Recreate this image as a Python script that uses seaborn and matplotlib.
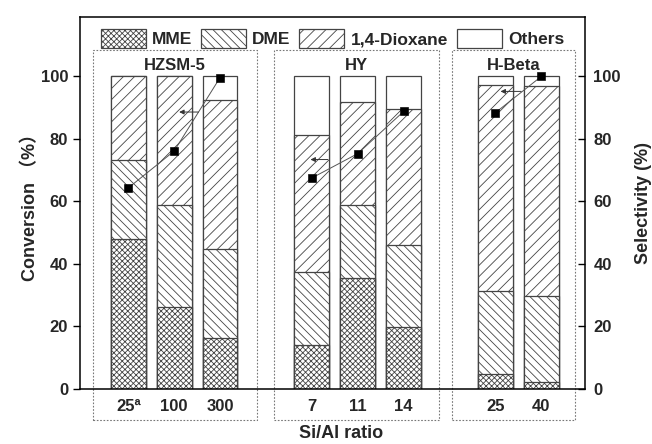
import matplotlib
matplotlib.use("Agg")
import matplotlib.pyplot as plt
import numpy as np
import pandas as pd
import seaborn as sns
from matplotlib.patches import Patch, Rectangle

# Data
groups = ["HZSM-5", "HZSM-5", "HZSM-5", "HY", "HY", "HY", "H-Beta", "H-Beta"]
ratio_labels = ["25ª", "100", "300", "7", "11", "14", "25", "40"]
mme = [48.1, 26.3, 16.4, 14.1, 35.4, 19.9, 4.7, 2.2]
dme = [25.3, 32.7, 28.3, 23.2, 23.6, 26.1, 26.6, 27.7]
dioxane = [26.6, 41.0, 47.8, 43.9, 32.8, 43.7, 66.0, 67.0]
others = [0.0, 0.0, 7.5, 18.8, 8.2, 10.3, 2.7, 3.1]
conversion = [64.3, 76.1, 99.6, 67.5, 75.3, 88.8, 88.4, 100.0]

group_names = ["HZSM-5", "HY", "H-Beta"]
positions = [0, 1, 2, 4, 5, 6, 8, 9]

df = pd.DataFrame({
    "pos": positions,
    "group": groups,
    "MME": mme,
    "DME": dme,
    "1,4-Dioxane": dioxane,
    "Others": others,
    "conv": conversion,
})

sns.set_theme(style="white")
plt.rcParams["font.family"] = ["Liberation Sans", "Noto Sans CJK SC"]
plt.rcParams["font.weight"] = "bold"
plt.rcParams["hatch.linewidth"] = 0.6

fig = plt.figure(figsize=(6.52, 4.44), dpi=100)
ax = fig.add_axes([0.1227, 0.1239, 0.7745, 0.8378])

layers = ["MME", "DME", "1,4-Dioxane", "Others"]
hatches = {"MME": "xxxxxx", "DME": "\\\\\\\\", "1,4-Dioxane": "///", "Others": ""}
edge = "#444444"

# stacked bars drawn as overlapping cumulative totals, tallest first
cum = df[layers].cumsum(axis=1)
for layer in layers[::-1]:
    sns.barplot(x=df["pos"], y=cum[layer], native_scale=True, width=0.76,
                color="white", edgecolor=edge, linewidth=0.9, hatch=hatches[layer],
                errorbar=None, ax=ax)
for p in ax.patches:
    p.set_facecolor("white")

# conversion points, connected within each zeolite
sns.lineplot(data=df, x="pos", y="conv", units="group", estimator=None,
             color="#555555", lw=0.7, ax=ax, legend=False)
sns.scatterplot(data=df, x="pos", y="conv", marker="s", color="black", s=30,
                edgecolor="black", zorder=5, ax=ax, legend=False)

# small arrows pointing to the conversion axis
arrows = [((1.53, 88.6), (1.11, 88.6)), ((4.35, 73.4), (3.97, 73.4)),
          ((8.56, 95.2), (8.11, 95.2))]
for tail, head in arrows:
    ax.annotate("", xy=head, xytext=tail,
                arrowprops=dict(arrowstyle="-|>", color="#333333", lw=0.7,
                                mutation_scale=7, shrinkA=0, shrinkB=0))

# dotted boxes around each group
boxes = [(-0.77, 2.80), (3.17, 6.76), (7.06, 9.74)]
for (x0, x1), name in zip(boxes, group_names):
    ax.add_patch(Rectangle((x0, -9.9), x1 - x0, 118.5, fill=False,
                           edgecolor="#777777", linestyle=(0, (1.5, 1.5)),
                           lw=0.8, clip_on=False, zorder=0))
    ax.text((x0 + x1) / 2, 103.6, name, ha="center", va="center", fontsize=12,
            fontweight="bold")

ax.set_xlim(-1.05, 9.95)
ax.set_ylim(0, 119)
ax.set_xticks(positions)
ax.set_xticklabels(ratio_labels, fontsize=12, fontweight="bold")
ax.set_yticks([0, 20, 40, 60, 80, 100])
ax.tick_params(axis="x", length=0, pad=7)
ax.tick_params(axis="y", direction="out", length=5, width=1, labelsize=12,
               left=True, color="black")
ax.set_xlabel("Si/Al ratio", fontsize=13, fontweight="bold")
ax.xaxis.set_label_coords(0.517, -0.097)
ax.set_ylabel("Conversion （%）", fontsize=13, fontweight="bold", labelpad=1)
for s in ax.spines.values():
    s.set_color("black")
    s.set_linewidth(1.1)

ax2 = ax.twinx()
ax2.set_ylim(0, 119)
ax2.set_yticks([0, 20, 40, 60, 80, 100])
ax2.tick_params(axis="y", direction="in", length=5, width=1, labelsize=12,
                right=True, color="black", pad=6)
ax2.set_ylabel("Selectivity (%)", fontsize=13, fontweight="bold", labelpad=10)
for s in ax2.spines.values():
    s.set_visible(False)
ax2.grid(False)
ax.grid(False)

handles = [Patch(facecolor="white", edgecolor=edge, hatch=hatches[l], lw=0.9)
           for l in layers]
ax.legend(handles, layers, loc="upper center", bbox_to_anchor=(0.5, 1.0),
          ncol=4, frameon=False, handlelength=2.6,
          handleheight=1.25, columnspacing=0.5, handletextpad=0.35,
          borderaxespad=0.3, prop={"weight": "bold", "size": 12.5})

fig.savefig("out.png", dpi=100)
